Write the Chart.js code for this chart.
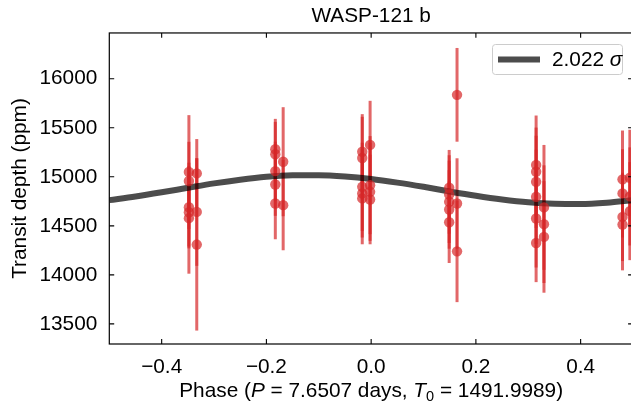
<!DOCTYPE html>
<html>
<head>
<meta charset="utf-8">
<script src="https://cdn.jsdelivr.net/npm/chart.js@4.4.0/dist/chart.umd.min.js"></script>
<style>
  html, body { margin: 0; padding: 0; overflow: hidden; background: #fff; }
  #wrap { width: 641px; height: 406px; }
</style>
</head>
<body>
<div id="wrap"><canvas id="depthChart" width="641" height="406"></canvas></div>
<script>
// transit depths, phase folded
var phase = [
  -0.348, -0.348, -0.348, -0.348, -0.348,
  -0.333, -0.333, -0.333,
  -0.183, -0.183, -0.183, -0.183, -0.183,
  -0.168, -0.168,
  -0.017, -0.017, -0.017, -0.017, -0.017,
  -0.002, -0.002, -0.002, -0.002,
  0.149, 0.149, 0.149, 0.149, 0.149,
  0.164, 0.164, 0.164,
  0.315, 0.315, 0.315, 0.315, 0.315, 0.315,
  0.330, 0.330, 0.330,
  0.480, 0.480, 0.480, 0.480,
  0.494, 0.494, 0.494
];
var depth = [
  15049, 14957, 14690, 14639, 14578,
  15035, 14642, 14309,
  15281, 15230, 15058, 14922, 14728,
  15154, 14711,
  15256, 15192, 14898, 14831, 14780,
  15325, 14915, 14847, 14769,
  14888, 14820, 14745, 14667, 14537,
  15836, 14728, 14240,
  15120, 15052, 14949, 14796, 14575, 14325,
  14688, 14517, 14387,
  14974, 14831, 14591, 14513,
  14990, 14800, 14650
];
var depthErr = [
  580, 400, 420, 350, 566,
  350, 550, 877,
  310, 330, 300, 320, 365,
  556, 460,
  383, 420, 450, 450, 468,
  450, 500, 500, 457,
  386, 400, 420, 400, 416,
  478, 461, 518,
  505, 450, 470, 480, 500, 399,
  637, 600, 569,
  498, 450, 450, 467,
  490, 500, 500
];

// best-fit phase curve
var modelPhase = [-0.5, -0.45, -0.4, -0.35, -0.3, -0.25, -0.2, -0.15, -0.1, -0.05, 0.0,
                  0.05, 0.1, 0.15, 0.2, 0.25, 0.3, 0.35, 0.4, 0.45, 0.5];
var modelDepth = [14762, 14799, 14842, 14888, 14933, 14971, 15000, 15015, 15017, 15004, 14978,
                  14941, 14898, 14851, 14807, 14769, 14740, 14725, 14723, 14736, 14762];

var xTicks = [-0.4, -0.2, 0.0, 0.2, 0.4];
var yTicks = [13500, 14000, 14500, 15000, 15500, 16000];
var sigmaText = '2.022';

var FONT = "'Liberation Sans', Arial, sans-serif";
var FS = 20.8;
var RED = 'rgba(214, 39, 40, 0.7)';
var CURVE = 'rgba(0, 0, 0, 0.7)';

// vertical error bars, one stroke per point so overlaps darken
var errorBars = {
  id: 'errorBars',
  beforeDatasetsDraw: function(chart) {
    var ctx = chart.ctx, xs = chart.scales.x, ys = chart.scales.y;
    ctx.save();
    ctx.strokeStyle = RED;
    ctx.lineWidth = 3;
    for (var i = 0; i < phase.length; i++) {
      var px = xs.getPixelForValue(phase[i]);
      ctx.beginPath();
      ctx.moveTo(px, ys.getPixelForValue(depth[i] + depthErr[i]));
      ctx.lineTo(px, ys.getPixelForValue(depth[i] - depthErr[i]));
      ctx.stroke();
    }
    ctx.restore();
  }
};

function drawRuns(ctx, runs, cx, y) {
  var total = 0;
  runs.forEach(function(r) {
    ctx.font = (r.italic ? 'italic ' : '') + (r.sub ? FS * 0.7 : FS) + 'px ' + FONT;
    r.w = ctx.measureText(r.t).width;
    total += r.w;
  });
  var x = cx - total / 2;
  runs.forEach(function(r) {
    ctx.font = (r.italic ? 'italic ' : '') + (r.sub ? FS * 0.7 : FS) + 'px ' + FONT;
    ctx.fillText(r.t, x, r.sub ? y + 4 : y);
    x += r.w;
  });
  return x;
}

// frame, inward ticks, legend and x label
var frame = {
  id: 'frame',
  afterDraw: function(chart) {
    var ctx = chart.ctx, a = chart.chartArea, xs = chart.scales.x, ys = chart.scales.y;
    var tl = 4.9;
    ctx.save();
    ctx.strokeStyle = '#000';
    ctx.lineWidth = 1.2;
    ctx.strokeRect(a.left, a.top, a.right - a.left, a.bottom - a.top);
    ctx.lineWidth = 1.1;
    ctx.beginPath();
    xTicks.forEach(function(v) {
      var px = xs.getPixelForValue(v);
      ctx.moveTo(px, a.bottom); ctx.lineTo(px, a.bottom - tl);
      ctx.moveTo(px, a.top); ctx.lineTo(px, a.top + tl);
    });
    yTicks.forEach(function(v) {
      var py = ys.getPixelForValue(v);
      ctx.moveTo(a.left, py); ctx.lineTo(a.left + tl, py);
      ctx.moveTo(a.right, py); ctx.lineTo(a.right - tl, py);
    });
    ctx.stroke();

    // legend
    var bx = 492.5, by = 44.5, bw = 130, bh = 30;
    ctx.beginPath();
    ctx.roundRect(bx, by, bw, bh, 3);
    ctx.fillStyle = 'rgba(255,255,255,0.8)';
    ctx.fill();
    ctx.strokeStyle = '#cccccc';
    ctx.lineWidth = 1;
    ctx.stroke();
    ctx.strokeStyle = CURVE;
    ctx.lineWidth = 6;
    ctx.beginPath();
    ctx.moveTo(498, by + bh / 2);
    ctx.lineTo(540, by + bh / 2);
    ctx.stroke();
    ctx.fillStyle = '#000';
    ctx.textBaseline = 'middle';
    ctx.textAlign = 'left';
    ctx.font = FS + 'px ' + FONT;
    var t1 = sigmaText + ' ';
    ctx.fillText(t1, 552, by + bh / 2 + 1);
    var w1 = ctx.measureText(t1).width;
    ctx.font = 'italic ' + FS + 'px ' + FONT;
    ctx.fillText('\u03c3', 552 + w1, by + bh / 2 + 1);

    // x axis label with italic symbols
    ctx.textBaseline = 'alphabetic';
    drawRuns(ctx, [
      { t: 'Phase (' },
      { t: 'P', italic: true },
      { t: ' = 7.6507 days, ' },
      { t: 'T', italic: true },
      { t: '0', sub: true },
      { t: ' = 1491.9989)' }
    ], (a.left + a.right) / 2, 397);
    ctx.restore();
  }
};

var ctx = document.getElementById('depthChart').getContext('2d');
var depthChart = new Chart(ctx, {
  type: 'scatter',
  data: {
    datasets: [{
      label: 'data',
      data: phase.map(function(p, i) { return { x: p, y: depth[i] }; }),
      backgroundColor: RED,
      borderWidth: 0,
      pointRadius: 5.2
    }, {
      label: sigmaText + ' \u03c3',
      data: modelPhase.map(function(p, i) { return { x: p, y: modelDepth[i] }; }),
      showLine: true,
      borderColor: CURVE,
      borderWidth: 6,
      pointRadius: 0,
      cubicInterpolationMode: 'monotone'
    }]
  },
  options: {
    responsive: false,
    animation: false,
    layout: { padding: { left: 0, right: 8, top: 0, bottom: 0 } },
    plugins: {
      legend: { display: false },
      tooltip: { enabled: false },
      title: {
        display: true,
        text: 'WASP-121 b',
        color: '#000',
        fullSize: false,
        font: { family: FONT, size: FS, weight: 'normal' },
        padding: { top: 4, bottom: 4 }
      }
    },
    scales: {
      x: {
        type: 'linear',
        min: -0.5,
        max: 0.5,
        grid: { display: false, drawTicks: false },
        border: { display: false },
        ticks: {
          color: '#000',
          font: { family: FONT, size: FS },
          padding: 11,
          maxRotation: 0,
          callback: function(v) { return v.toFixed(1).replace('-', '\u2212'); }
        },
        afterBuildTicks: function(s) { s.ticks = xTicks.map(function(v) { return { value: v }; }); },
        afterFit: function(s) { s.height = 62; }
      },
      y: {
        min: 13295,
        max: 16467,
        grid: { display: false, drawTicks: false },
        border: { display: false },
        ticks: {
          color: '#000',
          font: { family: FONT, size: FS },
          padding: 12,
          callback: function(v) { return String(v); }
        },
        title: {
          display: true,
          text: 'Transit depth (ppm)',
          color: '#000',
          font: { family: FONT, size: FS },
          padding: { top: 8, bottom: 0 }
        },
        afterBuildTicks: function(s) { s.ticks = yTicks.map(function(v) { return { value: v }; }); },
        afterFit: function(s) { s.width = 109.3; }
      }
    }
  },
  plugins: [errorBars, frame]
});
</script>
</body>
</html>
